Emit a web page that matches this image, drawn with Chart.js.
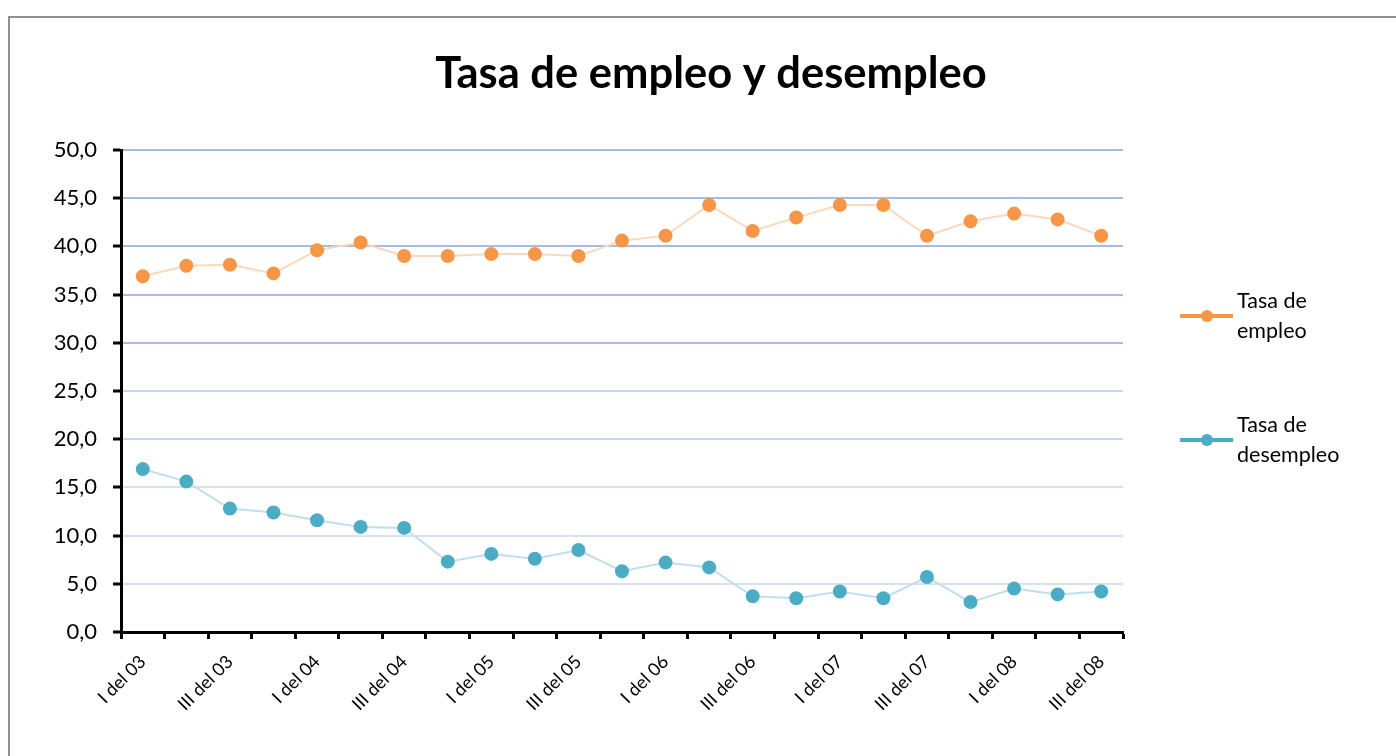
<!DOCTYPE html>
<html>
<head>
<meta charset="utf-8">
<script src="https://cdn.jsdelivr.net/npm/chart.js@4/dist/chart.umd.min.js"></script>
<style>
  html, body { margin: 0; padding: 0; background: #fff; overflow: hidden; }
  #frame { position: absolute; left: 8px; top: 16px; width: 1500px; height: 900px; border: 2px solid #8f8f8f; }
  #wrap { position: absolute; left: 0; top: 0; width: 1396px; height: 756px; }
</style>
</head>
<body>
<div id="frame"></div>
<div id="wrap"><canvas id="chart" width="1396" height="756"></canvas></div>
<script>
// quarters from I del 03 to III del 08
const categories = [
    'I del 03', 'II del 03', 'III del 03', 'IV del 03',
    'I del 04', 'II del 04', 'III del 04', 'IV del 04',
    'I del 05', 'II del 05', 'III del 05', 'IV del 05',
    'I del 06', 'II del 06', 'III del 06', 'IV del 06',
    'I del 07', 'II del 07', 'III del 07', 'IV del 07',
    'I del 08', 'II del 08', 'III del 08'
];
const seriesNames = ['Tasa de empleo', 'Tasa de desempleo'];
const empleo = [36.9, 38.0, 38.1, 37.2, 39.6, 40.4, 39.0, 39.0, 39.2, 39.2, 39.0, 40.6,
    41.1, 44.3, 41.6, 43.0, 44.3, 44.3, 41.1, 42.6, 43.4, 42.8, 41.1];
const desempleo = [16.9, 15.6, 12.8, 12.4, 11.6, 10.9, 10.8, 7.3, 8.1, 7.6, 8.5, 6.3,
    7.2, 6.7, 3.7, 3.5, 4.2, 3.5, 5.7, 3.1, 4.5, 3.9, 4.2];
const yTicks = [0, 5, 10, 15, 20, 25, 30, 35, 40, 45, 50];

const FONT = 'Lato, "Open Sans", sans-serif';
const orange = '#f79646', orangeLine = '#fcd9bd';
const blue = '#4bacc6', blueLine = '#bfe0ea';

function gridColor(ctx) {
    const v = ctx.tick ? ctx.tick.value : 0;
    if (v >= 30) return '#a8bbe2';
    if (v >= 20) return '#c6d6ee';
    return '#d6e2f1';
}

// title + legend painted on the canvas
const decorations = {
    id: 'decorations',
    afterDraw(chart) {
        const c = chart.ctx;
        c.save();
        c.fillStyle = '#000';
        c.font = 'bold 43.5px ' + FONT;
        c.textAlign = 'center';
        c.textBaseline = 'middle';
        c.fillText('Tasa de empleo y desempleo', 711, 74);

        const items = [
            { color: orange, y: 316 },
            { color: blue, y: 440 }
        ];
        items.forEach((it, i) => {
            const words = seriesNames[i].split(' ');
            const lines = [words.slice(0, 2).join(' '), words.slice(2).join(' ')];
            c.strokeStyle = it.color;
            c.lineWidth = 4;
            c.beginPath();
            c.moveTo(1180, it.y);
            c.lineTo(1233, it.y);
            c.stroke();
            c.fillStyle = it.color;
            c.beginPath();
            c.arc(1207, it.y, 6, 0, Math.PI * 2);
            c.fill();
            c.fillStyle = '#000';
            c.font = '21.5px ' + FONT;
            c.textAlign = 'left';
            c.fillText(lines[0], 1237, it.y - 15);
            c.fillText(lines[1], 1237, it.y + 15);
        });
        c.restore();
    }
};

new Chart(document.getElementById('chart'), {
    type: 'line',
    data: {
        labels: categories,
        datasets: [
            {
                label: seriesNames[0],
                data: empleo,
                borderColor: orangeLine,
                backgroundColor: orange,
                pointBackgroundColor: orange,
                pointBorderColor: orange,
                borderWidth: 2,
                pointRadius: 6,
                tension: 0
            },
            {
                label: seriesNames[1],
                data: desempleo,
                borderColor: blueLine,
                backgroundColor: blue,
                pointBackgroundColor: blue,
                pointBorderColor: blue,
                borderWidth: 2,
                pointRadius: 6,
                tension: 0
            }
        ]
    },
    options: {
        responsive: false,
        animation: false,
        layout: { padding: { left: 0, right: 273, top: 150, bottom: 0 } },
        plugins: {
            legend: { display: false },
            title: { display: false },
            tooltip: { enabled: false }
        },
        scales: {
            x: {
                offset: true,
                grid: {
                    offset: true,
                    drawOnChartArea: false,
                    drawTicks: true,
                    tickLength: 7,
                    tickWidth: 3,
                    tickColor: '#000'
                },
                border: { color: '#000', width: 3 },
                ticks: {
                    autoSkip: false,
                    maxRotation: 45,
                    minRotation: 45,
                    padding: 12,
                    color: '#000',
                    font: { family: FONT, size: 18 },
                    callback(val, idx) {
                        return idx % 2 === 0 ? categories[idx] : '';
                    }
                },
                afterFit(scale) { scale.height = 124; }
            },
            y: {
                min: 0,
                max: 50,
                afterBuildTicks(scale) { scale.ticks = yTicks.map(v => ({ value: v })); },
                grid: {
                    color: gridColor,
                    lineWidth: 2,
                    drawTicks: true,
                    tickLength: 8,
                    tickWidth: 3,
                    tickColor: '#000'
                },
                border: { color: '#000', width: 3 },
                ticks: {
                    padding: 16,
                    color: '#000',
                    font: { family: FONT, size: 22 },
                    callback(v) { return v.toFixed(1).replace('.', ','); }
                },
                afterFit(scale) { scale.width = 121; }
            }
        }
    },
    plugins: [decorations]
});
</script>
</body>
</html>
